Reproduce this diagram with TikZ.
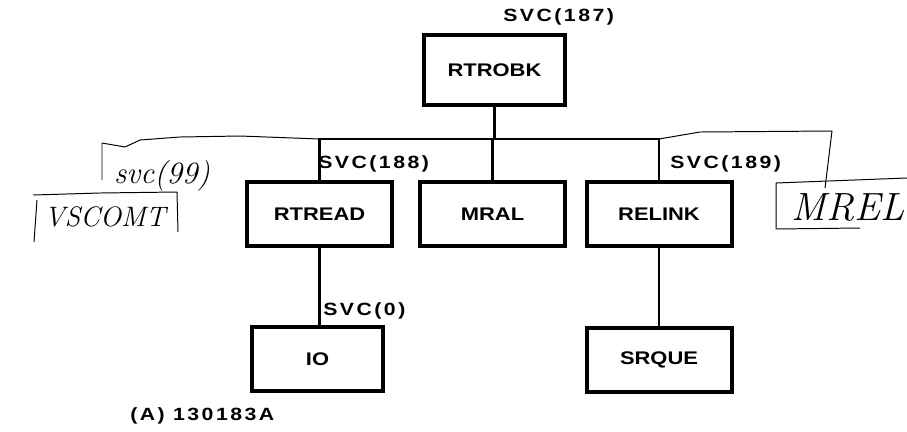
\documentclass[tikz,border=0pt]{standalone}
\usepackage{fontspec}
\newfontfamily\boxfont[FakeStretch=1.2]{Liberation Sans}
\newfontfamily\svcfont[FakeStretch=1.2,LetterSpace=14]{Liberation Sans}
\newcommand{\widthunit}{36.25mm}
\newcommand{\heightunit}{16mm}
\tikzset{
    common/.style={draw, rectangle, line width=1mm, inner sep=0pt, minimum height=\heightunit,
        font=\boxfont\bfseries\fontsize{13}{15}\selectfont},
    unit/.style={common, minimum width=\widthunit},
    svc/.style={anchor=west, inner sep=0pt, font=\svcfont\bfseries\fontsize{12.6}{14}\selectfont},
    link/.style={line width=0.55mm},
    hand/.style={line width=0.7pt, line join=round},
    scrawl/.style={inner sep=0pt, font=\itshape\fontsize{#1}{#1}\selectfont}
}

\begin{document}
\begin{tikzpicture}[x=0.25mm, y=-0.25mm]
    \useasboundingbox (0,0) rectangle (907,431);

    % printed chart
    \node[common, minimum width=35.25mm, minimum height=17.5mm] (RTROBK) at (494.5,70) {RTROBK};
    \node[unit] (RTREAD) at (319.5,214) {RTREAD};
    \node[unit] (MRAL) at (492.5,214) {MRAL};
    \node[unit] (RELINK) at (659,214) {RELINK};
    \node[common, minimum width=32.75mm] (IO) at (317.5,359) {IO};
    \node[unit] (SRQUE) at (659,360) {SRQUE};

    \node[svc] (svcA) at (503,17) {SVC(187)};
    \node[svc] (svcB) at (318,164) {SVC(188)};
    \node[svc] (svcC) at (670,164) {SVC(189)};
    \node[svc] (svcD) at (323,311) {SVC(0)};
    \node[svc] (figno) at (130,416) {(A) 130183A};

    \coordinate (bus) at (0,139);
    \draw[link] (RTROBK.south) -- (RTROBK.south |- bus);
    \draw[link] (RTREAD.north) -- (RTREAD.north |- bus) -- (RELINK.north |- bus) -- (RELINK.north);
    \draw[link] (MRAL.north) -- (MRAL.north |- bus);
    \draw[link] (RTREAD.south) -- (RTREAD.south |- IO.north);
    \draw[link] (RELINK.south) -- (SRQUE.north);

    % pencil notes
    \draw[hand] (RTREAD.north |- bus) -- (240,136) -- (180,137) -- (140,140) -- (125,147) -- (102,143) -- (102,180);
    \node[scrawl=22] (noteA) at (162,176) {svc(99)};
    \draw[hand] (33,195) -- (100,193) -- (177,192) -- (178,232);
    \draw[hand] (37,200) -- (34,242);
    \node[scrawl=20] (noteB) at (105,217) {VSCOMT};

    \draw[hand] (RELINK.north |- bus) -- (700,132) -- (832,131) -- (825,188);
    \draw[hand] (907,178) -- (776,183) -- (776,229) -- (860,228);
    \node[scrawl=28] (noteC) at (848,207) {MREL};
\end{tikzpicture}
\end{document}
